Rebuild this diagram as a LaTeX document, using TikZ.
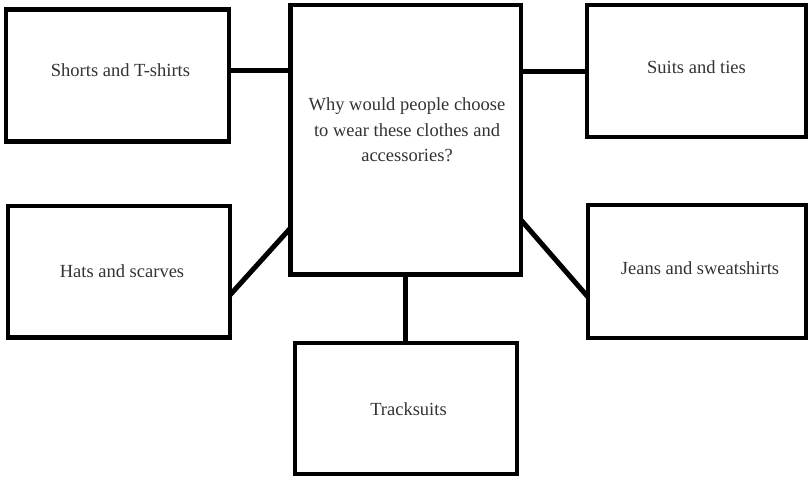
\documentclass[tikz,border=0pt]{standalone}
\usepackage{fontspec}
\setmainfont{Liberation Serif}
\begin{document}
\begin{tikzpicture}[x=1pt,y=-1pt,
  box/.style={draw=black, line width=4.5pt, rectangle, inner sep=0pt, outer sep=0pt, fill=white},
  txt/.style={text=black!80, font=\fontsize{18.5}{25.5}\selectfont, align=center, inner sep=0pt},
  link/.style={draw=black, line width=5pt}]
\useasboundingbox[fill=white] (0,0) rectangle (809,477);

% boxes
\node[box, minimum width=230.5pt, minimum height=269.5pt] (hub) at (405.75,139.75) {};
\node[box, minimum width=223pt, minimum height=132pt] (shorts) at (117.5,75.5) {};
\node[box, minimum width=219pt, minimum height=132pt] (suits) at (696.5,71) {};
\node[box, minimum width=222pt, minimum height=131.5pt] (hats) at (119,271.75) {};
\node[box, minimum width=218pt, minimum height=133pt] (jeans) at (697,271.5) {};
\node[box, minimum width=222pt, minimum height=131pt] (track) at (406,408.5) {};

% labels
\node[txt] (hubtext) at (407,130) {Why would people choose\\to wear these clothes and\\accessories?};
\node[txt] (shortstext) at (120.5,70) {Shorts and T-shirts};
\node[txt] (suitstext) at (696.5,67) {Suits and ties};
\node[txt] (hatstext) at (122,271) {Hats and scarves};
\node[txt] (jeanstext) at (700,268) {Jeans and sweatshirts};
\node[txt] (tracktext) at (408.5,409) {Tracksuits};

% connectors
\draw[link] (shorts.east |- 0,70) -- (hub.west |- 0,70);
\draw[link] (hub.east |- 0,71) -- (suits.west |- 0,71);
\draw[link] (hats.east |- 0,295) -- (hub.west |- 0,228);
\draw[link] (hub.east |- 0,220) -- (jeans.west |- 0,297);
\draw[link] (hub.south -| 405,0) -- (track.north -| 405,0);
\end{tikzpicture}
\end{document}
